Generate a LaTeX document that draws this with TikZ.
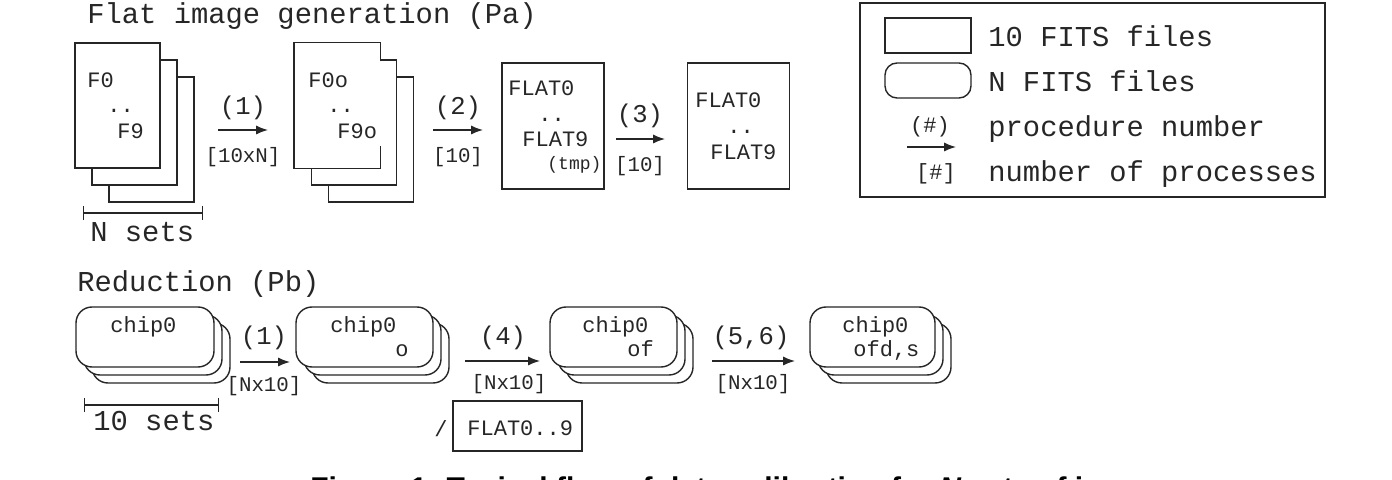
\documentclass[tikz,border=0pt]{standalone}
\usepackage{fontspec}
\usepackage{tikz}
\usetikzlibrary{arrows.meta,calc}
\newfontfamily\mono{Liberation Mono}
\newfontfamily\capsans{Liberation Sans}
\definecolor{ink}{HTML}{262626}
\newcommand\headfont{\mono\fontsize{14.4}{16}\selectfont}
\newcommand\procfont{\mono\fontsize{12.8}{14}\selectfont}
\newcommand\countfont{\mono\fontsize{10.4}{12}\selectfont}
\newcommand\boxfont{\mono\fontsize{11}{13}\selectfont}
\newcommand\tmpfont{\mono\fontsize{9}{11}\selectfont}
\newcommand\capfont{\capsans\bfseries\fontsize{15}{17}\selectfont}
\tikzset{
  sheet/.style={draw=ink,fill=white,line width=0.7pt,inner sep=0pt,
    minimum width=42.5pt,minimum height=62.5pt},
  flatbox/.style={draw=ink,fill=white,line width=0.7pt,inner sep=0pt,
    minimum width=51pt,minimum height=63pt},
  chip/.style={draw=ink,fill=white,line width=0.7pt,rounded corners=8pt,
    inner sep=0pt,minimum height=30pt},
  txt/.style={anchor=base west,inner sep=0pt,text=ink,font=\boxfont},
  lbl/.style={anchor=base,inner sep=0pt,text=ink},
  flow/.style={-{Latex[length=6pt,width=4.6pt]},draw=ink,line width=0.7pt},
  setspan/.style={{Bar[width=7pt]}-{Bar[width=7pt]},draw=ink,line width=0.7pt}
}
\begin{document}
\begin{tikzpicture}[x=0.5pt,y=-0.5pt]
  \useasboundingbox (0,0) rectangle (1392,480);
  \clip (0,0) rectangle (1392,480);
  % flat image generation
  \node[txt,font=\headfont] (head1) at (87,24) {Flat image generation (Pa)};
  \node[sheet] (s1c) at (151.5,139.5) {};
  \node[sheet] (s1b) at (134.5,122.5) {};
  \node[sheet] (s1a) at (117.5,105.5) {};
  \node[txt] (f0) at (87,88) {F0};
  \node[txt] (f0d) at (107,113) {..};
  \node[txt] (f9) at (117,139) {F9};
  \coordinate (n1) at (83,213);
  \coordinate (n2) at (203,213);
  \draw[setspan] (n1) -- (n2);
  \node[txt,font=\headfont] (nsets) at (90,242) {N sets};

  \coordinate (a1s) at (218,130);
  \coordinate (a1e) at (268,130);
  \draw[flow] (a1s) -- (a1e);
  \node[lbl,font=\procfont] (p1) at (243,115) {(1)};
  \node[lbl,font=\countfont] (c1) at (243,163) {[10xN]};

  \node[sheet] (s2c) at (371,139.5) {};
  \node[sheet] (s2b) at (354,122.5) {};
  \node[sheet,draw=none] (s2a) at (337,105.5) {};
  \draw[ink,line width=0.7pt] ($(s2a.north east)+(0,19)$) -- (s2a.north east)
    -- (s2a.north west) -- (s2a.south west) -- (s2a.south east) -- ++(0,-23);
  \node[txt] (f0o) at (308,88) {F0o};
  \node[txt] (f0od) at (327,113) {..};
  \node[txt] (f9o) at (337,139) {F9o};

  \coordinate (a2s) at (433,130);
  \coordinate (a2e) at (483,130);
  \draw[flow] (a2s) -- (a2e);
  \node[lbl,font=\procfont] (p2) at (458,115) {(2)};
  \node[lbl,font=\countfont] (c2) at (458,163) {[10]};

  \node[flatbox] (tmp) at (553,126) {};
  \node[txt] (t0) at (508,96) {FLAT0};
  \node[txt] (td) at (538,122) {..};
  \node[txt] (t9) at (522,147) {FLAT9};
  \node[txt,font=\tmpfont] (tt) at (547,170) {(tmp)};

  \coordinate (a3s) at (616,139);
  \coordinate (a3e) at (665,139);
  \draw[flow] (a3s) -- (a3e);
  \node[lbl,font=\procfont] (p3) at (640,123) {(3)};
  \node[lbl,font=\countfont] (c3) at (640,172) {[10]};

  \node[flatbox] (flat) at (738.5,126) {};
  \node[txt] (l0) at (695,108) {FLAT0};
  \node[txt] (ld) at (727,134) {..};
  \node[txt] (l9) at (710,160) {FLAT9};

  % legend
  \node[draw=ink,line width=0.7pt,minimum width=232.5pt,minimum height=97pt,
    inner sep=0pt] (legend) at (1092.5,100) {};
  \node[draw=ink,line width=0.7pt,minimum width=43pt,minimum height=17.5pt,
    inner sep=0pt] (legrect) at (928,35.5) {};
  \node[chip,minimum width=43pt,minimum height=17.5pt,rounded corners=6pt]
    (legchip) at (928,80.5) {};
  \coordinate (las) at (907,147);
  \coordinate (lae) at (956,147);
  \draw[flow] (las) -- (lae);
  \node[lbl,font=\boxfont] (lp) at (930,133) {(\#)};
  \node[lbl,font=\boxfont] (lc) at (936,180) {[\#]};
  \node[txt,font=\headfont] (lt1) at (988,47) {10 FITS files};
  \node[txt,font=\headfont] (lt2) at (988,92) {N FITS files};
  \node[txt,font=\headfont] (lt3) at (988,137) {procedure number};
  \node[txt,font=\headfont] (lt4) at (988,182) {number of processes};

  % reduction
  \node[txt,font=\headfont] (head2) at (77,292) {Reduction (Pb)};
  \foreach \d in {16,8}
    \node[chip,minimum width=69pt] (r1-\d) at (145+\d,337+\d) {};
  \node[chip,minimum width=69pt] (r1) at (145,337) {};
  \node[txt] (r1t) at (110,333) {chip0};
  \coordinate (m1) at (84,405);
  \coordinate (m2) at (219,405);
  \draw[setspan] (m1) -- (m2);
  \node[txt,font=\headfont] (tsets) at (93,430) {10 sets};

  \coordinate (b1s) at (240,362);
  \coordinate (b1e) at (290,362);
  \draw[flow] (b1s) -- (b1e);
  \node[lbl,font=\procfont] (q1) at (264,345) {(1)};
  \node[lbl,font=\countfont] (d1) at (264,392) {[Nx10]};

  \foreach \d in {16,8}
    \node[chip,minimum width=68.5pt] (r2-\d) at (364.5+\d,337+\d) {};
  \node[chip,minimum width=68.5pt] (r2) at (364.5,337) {};
  \node[txt] (r2t) at (330,333) {chip0};
  \node[txt] (r2s) at (395,357) {o};

  \coordinate (b2s) at (465,361);
  \coordinate (b2e) at (540,361);
  \draw[flow] (b2s) -- (b2e);
  \node[lbl,font=\procfont] (q2) at (503,345) {(4)};
  \node[lbl,font=\countfont] (d2) at (509,390) {[Nx10]};
  \node[txt] (slash) at (434,437) {/};
  \node[draw=ink,line width=0.7pt,minimum width=64.5pt,minimum height=25pt,
    inner sep=0pt] (flatall) at (517.5,426) {};
  \node[txt] (flatallt) at (467,436) {FLAT0..9};

  \foreach \d in {16,8}
    \node[chip,minimum width=63.5pt] (r3-\d) at (613.5+\d,337+\d) {};
  \node[chip,minimum width=63.5pt] (r3) at (613.5,337) {};
  \node[txt] (r3t) at (582,333) {chip0};
  \node[txt] (r3s) at (627,357) {of};

  \coordinate (b3s) at (712,361);
  \coordinate (b3e) at (795,361);
  \draw[flow] (b3s) -- (b3e);
  \node[lbl,font=\procfont] (q3) at (751,345) {(5,6)};
  \node[lbl,font=\countfont] (d3) at (753,390) {[Nx10]};

  \foreach \d in {16,8}
    \node[chip,minimum width=62.5pt] (r4-\d) at (872.5+\d,337+\d) {};
  \node[chip,minimum width=62.5pt] (r4) at (872.5,337) {};
  \node[txt] (r4t) at (842,333) {chip0};
  \node[txt] (r4s) at (853,357) {ofd,s};

  % caption, cut by the lower edge
  \node[anchor=base west,inner sep=0pt,font=\capfont] (caption) at (310,498)
    {Figure 1. Typical flow of data calibration for \textit{N} sets of images};
\end{tikzpicture}
\end{document}
